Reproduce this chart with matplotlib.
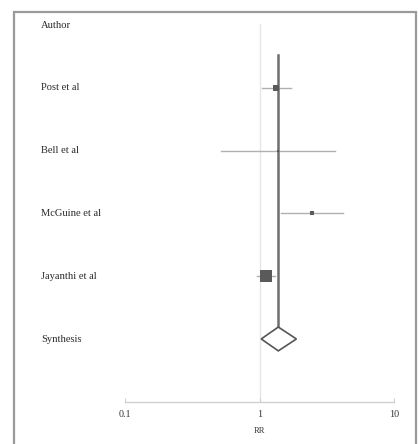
import matplotlib
matplotlib.use("Agg")
import matplotlib.pyplot as plt
from matplotlib.patches import Rectangle, Polygon
import numpy as np

studies = ["Post et al", "Bell et al", "McGuine et al", "Jayanthi et al"]
rr = [1.33, 1.37, 2.46, 1.11]
ci_low = [1.04, 0.52, 1.45, 0.96]
ci_high = [1.72, 3.63, 4.19, 1.31]
marker_sizes = [6, 2.5, 4.5, 12]  # px
summary_label = "Synthesis"
summary_rr = 1.38
summary_low = 1.03
summary_high = 1.88
header = "Author"
xticks = [0.1, 1, 10]
xtick_labels = ["0.1", "1", "10"]
xlabel = "RR"

W, H = 419, 444
fig = plt.figure(figsize=(W / 100, H / 100), dpi=100)
plt.rcParams['font.family'] = ['Liberation Serif', 'DejaVu Serif']

# outer frame
frame = Rectangle((14 / W, -0.05), (416 - 14) / W, 1.05 - 12 / H, transform=fig.transFigure,
                  fill=False, edgecolor="#9a9a9a", linewidth=1.6)
fig.patches.append(frame)

left, right = 125 / W, 394 / W
bottom, top = 1 - 401.7 / H, 1 - 24 / H
ax = fig.add_axes([left, bottom, right - left, top - bottom])
ax.set_xscale("log")
ax.set_xlim(0.1, 10)
ax.set_ylim(6, -0.02)

# reference line at 1
ax.axvline(1, color="#e6e6e6", linewidth=1.0, zorder=0)

rows = np.arange(1, len(studies) + 1)
# summary vertical line
ax.plot([summary_rr, summary_rr], [0.48, 5 - 0.19], color="#6e6e6e", linewidth=1.8, zorder=2)

for y, r, lo, hi, ms in zip(rows, rr, ci_low, ci_high, marker_sizes):
    ax.plot([lo, hi], [y, y], color="#b0b0b0", linewidth=1.0, zorder=1)
    ax.plot([r], [y], marker="s", markersize=ms * 0.72, color="#5a5a5a",
            markeredgewidth=0, zorder=3)

# diamond
ys = 5
dh = 0.19
diamond = Polygon([[summary_low, ys], [summary_rr, ys - dh], [summary_high, ys],
                   [summary_rr, ys + dh]], closed=True, facecolor="white",
                  edgecolor="#555555", linewidth=1.2, zorder=3)
ax.add_patch(diamond)

# labels
labels = [header] + studies + [summary_label]
for i, lab in enumerate(labels):
    ax.text(41 / W, 1 - (25 + i * 62.8) / H, lab, transform=fig.transFigure,
            fontsize=7.6, va="center", ha="left", color="#2a2a2a")

for s in ["top", "left", "right"]:
    ax.spines[s].set_visible(False)
ax.spines["bottom"].set_color("#d0d0d0")
ax.spines["bottom"].set_linewidth(1.0)
ax.set_yticks([])
ax.set_xticks(xticks)
ax.set_xticklabels(xtick_labels)
ax.xaxis.set_minor_locator(matplotlib.ticker.NullLocator())
ax.tick_params(axis="x", direction="in", length=3, color="#d0d0d0", labelsize=7.2,
               labelcolor="#333333", pad=6)
ax.set_xlabel(xlabel, fontsize=6, color="#333333", labelpad=6)
ax.patch.set_alpha(0)

fig.savefig("out.png", dpi=100)
